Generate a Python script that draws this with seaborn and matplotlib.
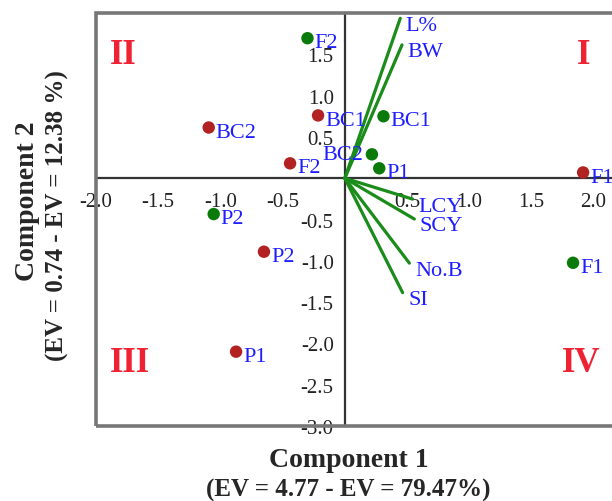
import numpy as np
import pandas as pd
import matplotlib
matplotlib.use('Agg')
import matplotlib.pyplot as plt
import seaborn as sb
from matplotlib.patches import Rectangle

# genotype scores (two groups) and trait loadings
genotypes = ['P1', 'P2', 'F1', 'F2', 'BC1', 'BC2']
red_pc1 = [-0.874, -0.65, 1.916, -0.44, -0.215, -1.094]
red_pc2 = [-2.10, -0.89, 0.07, 0.18, 0.76, 0.614]
green_pc1 = [0.277, -1.054, 1.835, -0.30, 0.311, 0.218]
green_pc2 = [0.12, -0.434, -1.024, 1.695, 0.75, 0.289]

traits = ['L%', 'BW', 'LCY', 'SCY', 'No.B', 'SI']
trait_pc1 = [0.446, 0.46, 0.545, 0.559, 0.519, 0.465]
trait_pc2 = [1.936, 1.614, -0.253, -0.494, -1.028, -1.386]

xticks = [-2.0, -1.5, -1.0, -0.5, 0.5, 1.0, 1.5, 2.0, 2.5]
yticks = [-3.0, -2.5, -2.0, -1.5, -1.0, -0.5, 0.5, 1.0, 1.5]
quadrants = ['I', 'II', 'III', 'IV']

sb.set_style('white')
plt.rcParams['font.family'] = ['Liberation Serif', 'DejaVu Serif']

red = pd.DataFrame({'pc1': red_pc1, 'pc2': red_pc2, 'name': genotypes})
green = pd.DataFrame({'pc1': green_pc1, 'pc2': green_pc2, 'name': genotypes})

fig = plt.figure(figsize=(6.12, 5.02), dpi=100)
ax = fig.add_axes([0.1569, 0.1494, 0.9146, 0.8227])
ax.set_xlim(-2.0, 2.5)
ax.set_ylim(-3.0, 2.0)

# trait vectors
for t, x, y in zip(traits, trait_pc1, trait_pc2):
    ax.plot([0, x], [0, y], color='#1a8c1a', lw=2.3, zorder=3)
    ax.annotate(t, (x, y), xytext=(4, -5), textcoords='offset points',
                ha='left', va='center', color='#1e1eff', fontsize=16, zorder=5)

sb.scatterplot(data=red, x='pc1', y='pc2', color='#b22222', s=80,
               edgecolor='none', ax=ax, zorder=4)
sb.scatterplot(data=green, x='pc1', y='pc2', color='#0a7a0a', s=80,
               edgecolor='none', ax=ax, zorder=4)

for df in (red, green):
    for _, r in df.iterrows():
        if df is green and r['name'] == 'BC2':
            ax.annotate(r['name'], (r['pc1'], r['pc2']), xytext=(-6, 0),
                        textcoords='offset points', ha='right', va='center',
                        color='#1e1eff', fontsize=16, zorder=5)
        else:
            ax.annotate(r['name'], (r['pc1'], r['pc2']), xytext=(5, -3.3),
                        textcoords='offset points', ha='left', va='center',
                        color='#1e1eff', fontsize=16, zorder=5)

# quadrant labels
qpos = {'I': (1.92, 1.5), 'II': (-1.78, 1.5), 'III': (-1.73, -2.23), 'IV': (1.9, -2.23)}
for q in quadrants:
    ax.text(qpos[q][0], qpos[q][1], q, color='#ee2233', fontsize=25,
            fontweight='bold', ha='center', va='center')

# axes through the origin
for s in ['left', 'bottom']:
    ax.spines[s].set_position(('data', 0))
    ax.spines[s].set_color('#333333')
    ax.spines[s].set_linewidth(1.6)
for s in ['top', 'right']:
    ax.spines[s].set_visible(False)
ax.add_patch(Rectangle((0, 0), 1, 1, transform=ax.transAxes, fill=False,
                       ec='#777777', lw=2.6, clip_on=False, zorder=6))

ax.set_xticks(xticks)
ax.set_xticklabels(['%.1f' % v for v in xticks])
ax.set_yticks(yticks)
ax.set_yticklabels(['%.1f' % v for v in yticks])
ax.tick_params(axis='both', direction='out', length=7, width=1.4,
               color='#333333', labelsize=15, labelcolor='#222222')
ax.tick_params(axis='x', pad=3)
ax.tick_params(axis='y', pad=1)
ax.set_xlabel('')
ax.set_ylabel('')

fig.text(0.5694, 0.082, 'Component 1', ha='center', va='center',
         fontsize=20, fontweight='bold')
fig.text(0.5694, 0.023, '(EV = 4.77 - EV = 79.47%)', ha='center', va='center',
         fontsize=18, fontweight='bold')
fig.text(0.045, 0.60, 'Component 2', ha='center', va='center', rotation=90,
         fontsize=20, fontweight='bold')
fig.text(0.094, 0.57, '(EV = 0.74 - EV = 12.38 %)', ha='center', va='center',
         rotation=90, fontsize=18, fontweight='bold')

fig.savefig('out.png', dpi=100)
